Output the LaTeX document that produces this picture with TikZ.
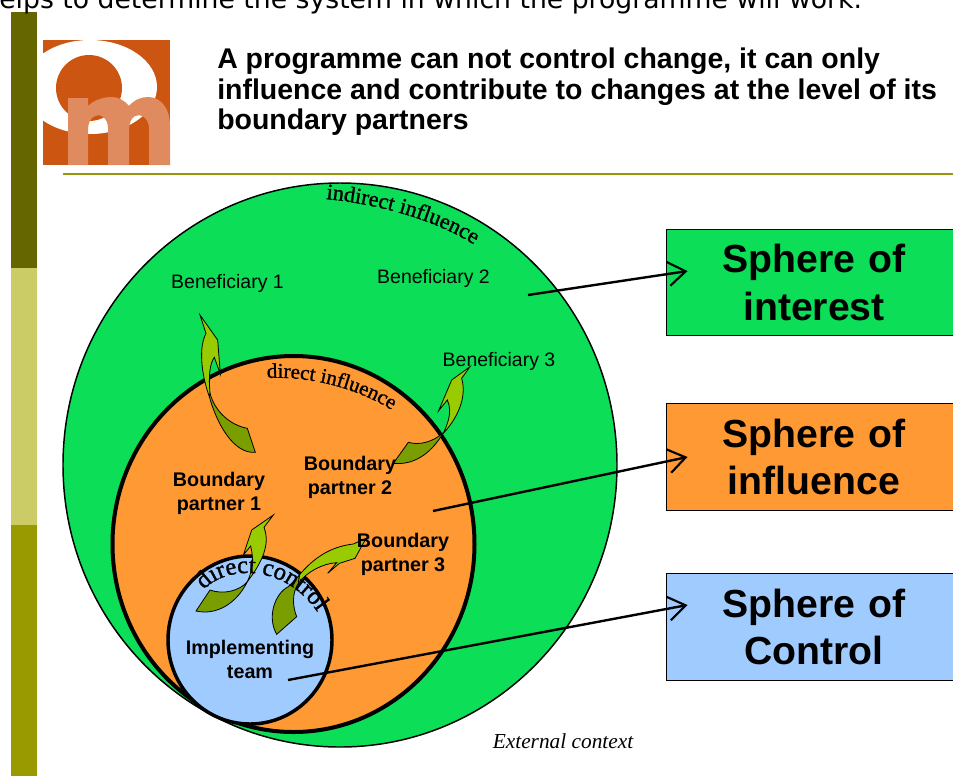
\documentclass[tikz,border=0pt]{standalone}
\usepackage{fontspec}
\setmainfont{Liberation Sans}
\newfontfamily\serifcurve{Liberation Serif}
\newfontfamily\wordart[FakeBold=1.2]{Liberation Serif}
\newfontfamily\topfont{DejaVu Sans}
\usetikzlibrary{arrows.meta,decorations.text}
\definecolor{greenfill}{HTML}{0CDE58}
\definecolor{orangefill}{HTML}{FF9933}
\definecolor{bluefill}{HTML}{A0CBFF}
\definecolor{arrowlight}{HTML}{99CC00}
\definecolor{arrowdark}{HTML}{7A9E00}
\definecolor{bardark}{HTML}{666600}
\definecolor{barlight}{HTML}{CCCC66}
\definecolor{barmid}{HTML}{999900}
\definecolor{logobg}{HTML}{CC5511}
\definecolor{logom}{HTML}{E08A60}
\newcommand{\curvefont}{\wordart\fontsize{16.7}{20}\selectfont}
\newcommand{\curvefontb}{\wordart\fontsize{15.7}{18}\selectfont}
\newcommand{\curvefontc}{\wordart\fontsize{18.4}{22}\selectfont}
\tikzset{
  x=0.75pt,y=-0.75pt,
  spherebox/.style={draw=black,line width=0.7pt,minimum width=222pt,minimum height=80pt,inner sep=0pt,
    align=center,text width=215pt,font=\bfseries\fontsize{29.4}{35.5}\selectfont},
  lab/.style={inner sep=0pt,align=center,font=\fontsize{14.6}{18}\selectfont},
  blab/.style={inner sep=0pt,align=center,font=\bfseries\fontsize{14.8}{18}\selectfont},
  pointer/.style={line width=1.8pt,-{Straight Barb[length=13pt,width=18pt,line width=1.6pt]}},
  curveline/.style={line width=0.6pt,draw=black},
  curvetext/.style={decorate,decoration={text along path,text format delimiters={|}{|},text={#1}}},
}
\begin{document}
\begin{tikzpicture}
\useasboundingbox (0,0) rectangle (953,776);
\clip (0,0) rectangle (953,776);
% side bar
\fill[bardark] (11,12) rectangle (37,268);
\fill[barlight] (11,268) rectangle (37,525);
\fill[barmid] (11,525) rectangle (37,776);
% top cropped line
\node[inner sep=0pt,anchor=base west,font=\topfont\fontsize{20}{24}\selectfont] (toptext) at (-1,8) {elps to determine the system in which the programme will work.};
% logo
\begin{scope}
\clip (43,40) rectangle (170,165);
\fill[logobg] (43,40) rectangle (170,165);
\fill[white] (90,87) ellipse [x radius=67,y radius=47];
\fill[logobg] (89,88) circle [radius=33];
\fill[logom] (68,165) -- (68,98) -- (88,98) -- (88,106) .. controls (95,99) and (105,97) .. (112,97)
  .. controls (118,97) and (124,100) .. (129,106) .. controls (135,99) and (142,97) .. (148,97)
  .. controls (162,97) and (170,110) .. (170,125) -- (170,165) -- (149,165) -- (149,128)
  .. controls (149,118) and (140,113) .. (135,116) .. controls (131,118) and (129,124) .. (129,130)
  -- (129,165) -- (108,165) -- (108,128) .. controls (108,118) and (100,113) .. (95,116)
  .. controls (90,118) and (88,124) .. (88,130) -- (88,165) -- cycle;
\end{scope}
% title
\node[inner sep=0pt,anchor=north west,align=left,font=\bfseries\fontsize{21.35}{22.9}\selectfont] (title) at (217,48)
  {A programme can not control change, it can only\\influence and contribute to changes at the level of its\\boundary partners};
\draw[draw=barmid!90!gray,line width=1.2pt] (63,174) -- (953,174);
% spheres
\draw[black,line width=1.1pt,fill=greenfill] (340,465) ellipse [x radius=277,y radius=282];
\draw[black,line width=3pt,fill=orangefill] (293.5,544) ellipse [x radius=181,y radius=188];
% green arrows (zoom coordinates transformed)
\begin{scope}[shift={(160,300)},x=0.25pt,y=-0.25pt]
\draw[curveline,fill=arrowlight] (120,45) -- (173,120) -- (181,222) -- (163,172) .. controls (150,190) and (145,225) .. (150,280)
  -- (148,290) .. controls (130,240) and (120,180) .. (127,135) .. controls (130,118) and (134,108) .. (138,100) -- cycle;
\draw[curveline,fill=arrowdark] (150,280) .. controls (165,335) and (210,375) .. (262,385) -- (286,457)
  .. controls (220,462) and (170,370) .. (148,290) -- cycle;
\draw[curveline,fill=arrowlight] (930,200) -- (905,235) .. controls (918,280) and (905,340) .. (850,400)
  .. controls (858,380) and (880,340) .. (862,300) -- (836,332) -- (875,240) -- cycle;
\draw[curveline,fill=arrowdark] (850,398) .. controls (820,425) and (780,437) .. (745,427) -- (700,490)
  .. controls (770,497) and (820,450) .. (850,398) -- cycle;
\end{scope}
\draw[black,line width=2.6pt,fill=bluefill] (250,640) ellipse [x radius=82,y radius=84];
\begin{scope}[shift={(160,300)},x=0.25pt,y=-0.25pt]
\draw[curveline,fill=arrowlight] (340,645) -- (312,682) .. controls (327,720) and (320,770) .. (262,845)
  .. controls (278,810) and (282,780) .. (272,738) -- (250,765) -- (275,690) -- cycle;
\draw[curveline,fill=arrowdark] (262,845) .. controls (240,872) and (190,885) .. (150,870) -- (108,933)
  .. controls (170,947) and (230,910) .. (262,845) -- cycle;
\draw[curveline,fill=arrowlight] (618,715) -- (585,775) -- (538,790) -- (503,820) -- (530,788)
  .. controls (490,790) and (440,815) .. (415,850) -- (418,825) .. controls (460,775) and (510,740) .. (580,732) -- cycle;
\draw[curveline,fill=arrowdark] (418,825) -- (415,850) .. controls (395,880) and (398,920) .. (410,950) -- (350,1003)
  .. controls (320,950) and (345,880) .. (385,860) .. controls (395,850) and (408,838) .. (418,825) -- cycle;
\end{scope}
% curved labels
\path[curvetext={|\curvefont|indirect influence}] (326,199) .. controls (385,205) and (440,222) .. (478,247) -- (520,280);
\path[curvetext={|\curvefontb|direct influence}] (267,378) .. controls (310,376) and (358,388) .. (395,412) -- (430,440);
\path[curvetext={|\curvefontc|direct control}] (204,590) .. controls (225,566) and (282,563) .. (316,610) -- (335,650);
% labels
\node[lab] (b1) at (227.5,283) {Beneficiary 1};
\node[lab] (b2) at (433.5,278) {Beneficiary 2};
\node[lab] (b3) at (499,361) {Beneficiary 3};
\node[blab] (p1) at (219,493) {Boundary\\partner 1};
\node[blab] (p2) at (350,477) {Boundary\\partner 2};
\node[blab] (p3) at (403,554) {Boundary\\partner 3};
\node[blab] (team) at (250,659) {Implementing\\team};
\node[inner sep=0pt,font=\serifcurve\itshape\fontsize{16}{19}\selectfont] (ctx) at (563,741) {External context};
% sphere boxes
\node[spherebox,fill=greenfill] (interest) at (814,282.5) {Sphere of\\interest};
\node[spherebox,fill=orangefill] (influence) at (814,457) {Sphere of\\influence};
\node[spherebox,fill=bluefill] (control) at (814,627) {Sphere of\\Control};
% pointers
\coordinate (s1) at (528,295);
\coordinate (e1) at ([xshift=16.5pt,yshift=8.6pt]interest.west);
\coordinate (s2) at (433,511);
\coordinate (e2) at ([xshift=16.5pt,yshift=0pt]influence.west);
\coordinate (s3) at (288,680);
\coordinate (e3) at ([xshift=16.5pt,yshift=16.5pt]control.west);
\draw[pointer] (s1) -- (e1);
\draw[pointer] (s2) -- (e2);
\draw[pointer] (s3) -- (e3);
\end{tikzpicture}
\end{document}
